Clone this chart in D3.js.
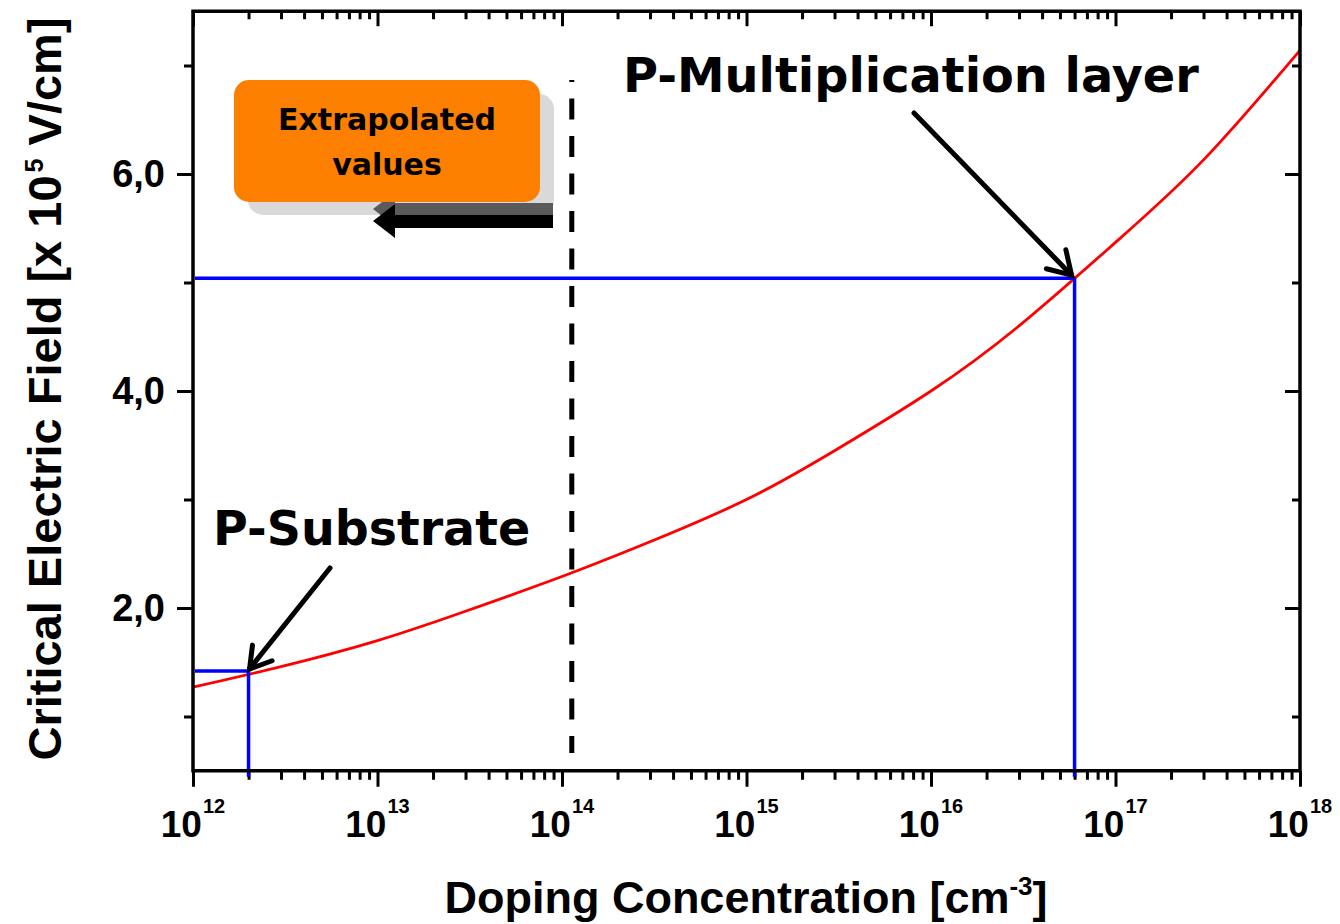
<!DOCTYPE html>
<html>
<head>
<meta charset="utf-8">
<script src="https://cdn.jsdelivr.net/npm/d3@7"></script>
<style>
  body { margin: 0; background: #fff; }
  svg { display: block; }
</style>
</head>
<body>
<svg id="chart" width="1340" height="924"></svg>
<script>
// Critical electric field versus doping concentration (x 10^5 V/cm)
const dopingConc = [1e12, 3e12, 1e13, 3e13, 1e14, 3e14, 1e15, 3e15, 1e16, 3e16, 1e17, 3e17, 1e18];
const criticalField = [1.27, 1.46, 1.70, 1.97, 2.29, 2.61, 3.00, 3.45, 4.00, 4.60, 5.37, 6.13, 7.14];

// Axis ticks and labels
const xMajorTicks = [1e12, 1e13, 1e14, 1e15, 1e16, 1e17, 1e18];
const xTickExponents = ["12", "13", "14", "15", "16", "17", "18"];
const yMajorTicks = [2, 4, 6];
const yTickLabels = ["2,0", "4,0", "6,0"];
const yMinorTicks = [1, 3, 5, 7];

// Marked operating points
const markerNames = ["P-Substrate", "P-Multiplication layer"];
const markerDoping = [2e12, 6e16];
const markerField = [1.42, 5.04];

// Boundary below which values are extrapolated
const extrapolationLimit = [1.13e14];
const extrapolationText = ["Extrapolated", "values"];

const svg = d3.select("#chart");
const plotLeft = 193, plotRight = 1300, plotTop = 11.25, plotBottom = 770.75;

const x = d3.scaleLog().domain([1e12, 1e18]).range([plotLeft, plotRight]);
const y = d3.scaleLinear().domain([0.5, 7.5]).range([plotBottom, plotTop]);

const xMinorTicks = [];
for (let e = 12; e < 18; e++) {
  for (let m = 2; m <= 9; m++) xMinorTicks.push(m * Math.pow(10, e));
}

const AXIS_FONT = "'Liberation Sans', Arial, sans-serif";
const NOTE_FONT = "'DejaVu Sans', Verdana, sans-serif";

function tickStyle(g) {
  g.select(".domain").remove();
  g.selectAll(".tick line").attr("stroke", "#000").attr("stroke-width", 3);
  g.selectAll(".tick text").remove();
}

// Bottom (outward) and top (inward) x ticks
svg.append("g").attr("transform", `translate(0,${plotBottom})`)
  .call(d3.axisBottom(x).tickValues(xMajorTicks).tickSize(16).tickFormat(""))
  .call(tickStyle);
svg.append("g").attr("transform", `translate(0,${plotBottom})`)
  .call(d3.axisBottom(x).tickValues(xMinorTicks).tickSize(9).tickFormat(""))
  .call(tickStyle);
svg.append("g").attr("transform", `translate(0,${plotTop})`)
  .call(d3.axisBottom(x).tickValues(xMajorTicks).tickSize(15).tickFormat(""))
  .call(tickStyle);
svg.append("g").attr("transform", `translate(0,${plotTop})`)
  .call(d3.axisBottom(x).tickValues(xMinorTicks).tickSize(8).tickFormat(""))
  .call(tickStyle);

// Left (outward) and right (inward) y ticks
svg.append("g").attr("transform", `translate(${plotLeft},0)`)
  .call(d3.axisLeft(y).tickValues(yMajorTicks).tickSize(16).tickFormat(""))
  .call(tickStyle);
svg.append("g").attr("transform", `translate(${plotLeft},0)`)
  .call(d3.axisLeft(y).tickValues(yMinorTicks).tickSize(9).tickFormat(""))
  .call(tickStyle);
svg.append("g").attr("transform", `translate(${plotRight},0)`)
  .call(d3.axisLeft(y).tickValues(yMajorTicks).tickSize(15).tickFormat(""))
  .call(tickStyle);
svg.append("g").attr("transform", `translate(${plotRight},0)`)
  .call(d3.axisLeft(y).tickValues(yMinorTicks).tickSize(8).tickFormat(""))
  .call(tickStyle);

// X tick labels: 10 with a superscript exponent
const xLabels = svg.append("g").selectAll("text").data(xMajorTicks).join("text")
  .attr("x", d => x(d)).attr("y", 837)
  .attr("text-anchor", "middle")
  .attr("font-family", AXIS_FONT).attr("font-weight", "bold")
  .attr("font-size", 37).attr("fill", "#000");
xLabels.append("tspan").text("10");
xLabels.append("tspan").attr("dx", 1).attr("dy", -24).attr("font-size", 20)
  .text((d, i) => xTickExponents[i]);

// Y tick labels
svg.append("g").selectAll("text").data(yMajorTicks).join("text")
  .attr("x", 165).attr("y", d => y(d) + 13)
  .attr("text-anchor", "end")
  .attr("font-family", AXIS_FONT).attr("font-weight", "bold")
  .attr("font-size", 38).attr("fill", "#000")
  .text((d, i) => yTickLabels[i]);

// Axis titles
const yTitle = svg.append("text")
  .attr("transform", "translate(61,389) rotate(-90)")
  .attr("text-anchor", "middle")
  .attr("font-family", AXIS_FONT).attr("font-weight", "bold")
  .attr("font-size", 47).attr("fill", "#000");
yTitle.append("tspan").text("Critical Electric Field [x 10");
yTitle.append("tspan").attr("dx", 3).attr("dy", -18).attr("font-size", 25).text("5");
yTitle.append("tspan").attr("dy", 18).text(" V/cm]");

const xTitle = svg.append("text")
  .attr("x", 746).attr("y", 913)
  .attr("text-anchor", "middle")
  .attr("font-family", AXIS_FONT).attr("font-weight", "bold")
  .attr("font-size", 45).attr("fill", "#000");
xTitle.append("tspan").text("Doping Concentration [cm");
xTitle.append("tspan").attr("dy", -18).attr("font-size", 26).text("-3");
xTitle.append("tspan").attr("dy", 18).text("]");

// Extrapolation boundary (dashed)
svg.append("line")
  .attr("x1", x(extrapolationLimit[0])).attr("x2", x(extrapolationLimit[0]))
  .attr("y1", 80).attr("y2", 753)
  .attr("stroke", "#000").attr("stroke-width", 5)
  .attr("stroke-dasharray", "21 16.5").attr("stroke-dashoffset", 19);

// Field curve
const line = d3.line()
  .x((d, i) => x(dopingConc[i]))
  .y(d => y(d))
  .curve(d3.curveNatural);
svg.append("path")
  .datum(criticalField)
  .attr("d", line)
  .attr("fill", "none").attr("stroke", "#ff0000").attr("stroke-width", 2.8);

// Drop lines for the marked points
const marks = svg.append("g");
markerDoping.forEach((n, i) => {
  const px = x(n), py = y(markerField[i]);
  marks.append("line").attr("x1", plotLeft + 2).attr("x2", px).attr("y1", py).attr("y2", py)
    .attr("stroke", "#0000ff").attr("stroke-width", 3.5);
  marks.append("line").attr("x1", px).attr("x2", px).attr("y1", py).attr("y2", plotBottom + 6)
    .attr("stroke", "#0000ff").attr("stroke-width", 3.5);
});

// Frame
svg.append("rect")
  .attr("x", plotLeft).attr("y", plotTop)
  .attr("width", plotRight - plotLeft).attr("height", plotBottom - plotTop)
  .attr("fill", "none").attr("stroke", "#000").attr("stroke-width", 3.5);

// Pointer arrows with open heads
function pointer(x0, y0, x1, y1, headLen) {
  const a = Math.atan2(y1 - y0, x1 - x0);
  const g = svg.append("g").attr("stroke", "#000").attr("stroke-width", 5)
    .attr("stroke-linecap", "round").attr("fill", "none");
  g.append("line").attr("x1", x0).attr("y1", y0).attr("x2", x1).attr("y2", y1);
  const spread = 0.55;
  const pts = [
    [x1 - headLen * Math.cos(a - spread), y1 - headLen * Math.sin(a - spread)],
    [x1, y1],
    [x1 - headLen * Math.cos(a + spread), y1 - headLen * Math.sin(a + spread)]
  ];
  g.append("path").attr("d", d3.line()(pts)).attr("stroke-linejoin", "miter");
}
pointer(330, 568, x(markerDoping[0]) + 1, y(markerField[0]) - 2, 24);
pointer(914, 113, x(markerDoping[1]) - 3, y(markerField[1]) - 3, 26);

// Marker labels
svg.append("text").attr("x", 213).attr("y", 545)
  .attr("font-family", NOTE_FONT).attr("font-weight", "bold")
  .attr("font-size", 47.5).attr("fill", "#000")
  .text(markerNames[0]);
svg.append("text").attr("x", 623).attr("y", 92)
  .attr("font-family", NOTE_FONT).attr("font-weight", "bold")
  .attr("font-size", 47.8).attr("fill", "#000")
  .text(markerNames[1]);

// "Extrapolated values" callout: shadow, left-pointing arrow, orange box
const callout = svg.append("g");
callout.append("rect").attr("x", 248).attr("y", 94).attr("width", 306).attr("height", 121)
  .attr("rx", 15).attr("fill", "#d9d9d9");
function leftArrow(dy, color) {
  const pts = [[373, 221 + dy], [395, 204 + dy], [395, 215 + dy], [553, 215 + dy],
               [553, 228 + dy], [395, 228 + dy], [395, 238 + dy]];
  callout.append("polygon").attr("points", pts.map(p => p.join(",")).join(" ")).attr("fill", color);
}
leftArrow(-12, "#5a5a5a");
leftArrow(0, "#000");
callout.append("rect").attr("x", 234).attr("y", 80).attr("width", 306).attr("height", 122)
  .attr("rx", 15).attr("fill", "#fd7f00");
callout.selectAll("text.note").data(extrapolationText).join("text")
  .attr("class", "note")
  .attr("x", 387).attr("y", (d, i) => 130 + i * 45)
  .attr("text-anchor", "middle")
  .attr("font-family", NOTE_FONT).attr("font-weight", "bold")
  .attr("font-size", 30).attr("fill", "#000")
  .text(d => d);
</script>
</body>
</html>
